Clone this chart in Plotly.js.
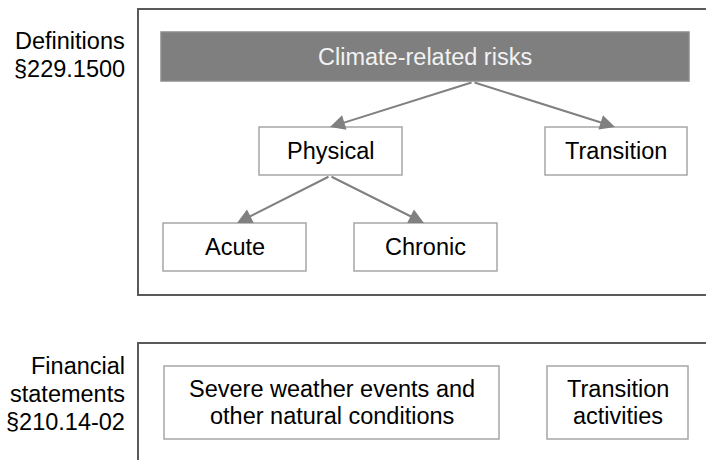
<!DOCTYPE html>
<html>
<head>
<meta charset="utf-8">
<script src="https://cdn.plot.ly/plotly-3.0.1.min.js"></script>
<style>html,body{margin:0;padding:0;background:#fff;}#chart{width:706px;height:460px;}</style>
</head>
<body>
<div id="chart"></div>
<script>
// Diagram content
var sectionLabels = [["Definitions", "§229.1500"], ["Financial", "statements", "§210.14-02"]];
var nodeLabels = [["Climate-related risks"], ["Physical"], ["Transition"], ["Acute"], ["Chronic"],
                  ["Severe weather events and", "other natural conditions"], ["Transition", "activities"]];
// Links: [from node, to node]
var links = [[0, 1], [0, 2], [1, 3], [1, 4]];

// Layout geometry (pixels, page coordinates)
var sectionBoxes = [[138, 9, 720, 295], [138, 343, 720, 490]];
var sectionLabelPos = [[127, 41], [127, 394]];
var nodeBoxes = [[161, 32, 689, 81], [259, 127, 402, 175], [545, 127, 687, 175],
                 [163, 223, 306, 271], [354, 223, 497, 271], [164, 366, 499, 439], [547, 366, 688, 439]];
var linkEnds = [[[473, 82], [330, 127]], [[473, 82], [615, 127]], [[330, 176], [237, 223]], [[330, 176], [424, 223]]];

var FONT = "Arial, 'Liberation Sans', sans-serif";
var FS = 23.5;
var LH = 27;

var shapes = [];
var annotations = [];

sectionBoxes.forEach(function (b) {
  shapes.push({type: "rect", xref: "x", yref: "y", x0: b[0], y0: b[1], x1: b[2], y1: b[3],
    line: {color: "#595959", width: 2}, fillcolor: "rgba(0,0,0,0)"});
});

nodeBoxes.forEach(function (b, i) {
  var filled = (i === 0);
  shapes.push({type: "rect", xref: "x", yref: "y", x0: b[0], y0: b[1], x1: b[2], y1: b[3],
    line: {color: filled ? "#8c8c8c" : "#a6a6a6", width: 1.5},
    fillcolor: filled ? "#7f7f7f" : "#ffffff"});
  var lines = nodeLabels[i];
  var cx = (b[0] + b[2]) / 2, cy = (b[1] + b[3]) / 2;
  lines.forEach(function (t, k) {
    annotations.push({xref: "x", yref: "y", x: cx, y: cy + (k - (lines.length - 1) / 2) * LH,
      text: t, showarrow: false, xanchor: "center", yanchor: "middle",
      font: {family: FONT, size: FS, color: filled ? "#f2f2f2" : "#000000"}});
  });
});

sectionLabels.forEach(function (lines, i) {
  var p = sectionLabelPos[i];
  var n = lines.length;
  lines.forEach(function (t, k) {
    annotations.push({xref: "x", yref: "y", x: p[0], y: p[1] + k * 28 - (n === 3 ? 28 : 0),
      text: t, showarrow: false, xanchor: "right", yanchor: "middle",
      font: {family: FONT, size: FS, color: "#000000"}});
  });
});

links.forEach(function (l, i) {
  var e = linkEnds[i];
  annotations.push({xref: "x", yref: "y", axref: "x", ayref: "y",
    x: e[1][0], y: e[1][1], ax: e[0][0], ay: e[0][1], text: "",
    showarrow: true, arrowhead: 2, arrowsize: 1.5, arrowwidth: 2, arrowcolor: "#808080", standoff: 0});
});

var data = [{type: "scatter", x: [], y: [], mode: "markers", hoverinfo: "skip", showlegend: false}];
var layout = {
  width: 706, height: 460,
  margin: {l: 0, r: 0, t: 0, b: 0},
  paper_bgcolor: "#ffffff", plot_bgcolor: "#ffffff",
  xaxis: {range: [0, 706], visible: false, fixedrange: true},
  yaxis: {range: [460, 0], visible: false, fixedrange: true},
  showlegend: false,
  shapes: shapes,
  annotations: annotations
};
Plotly.newPlot("chart", data, layout, {staticPlot: true, displayModeBar: false});
</script>
</body>
</html>
